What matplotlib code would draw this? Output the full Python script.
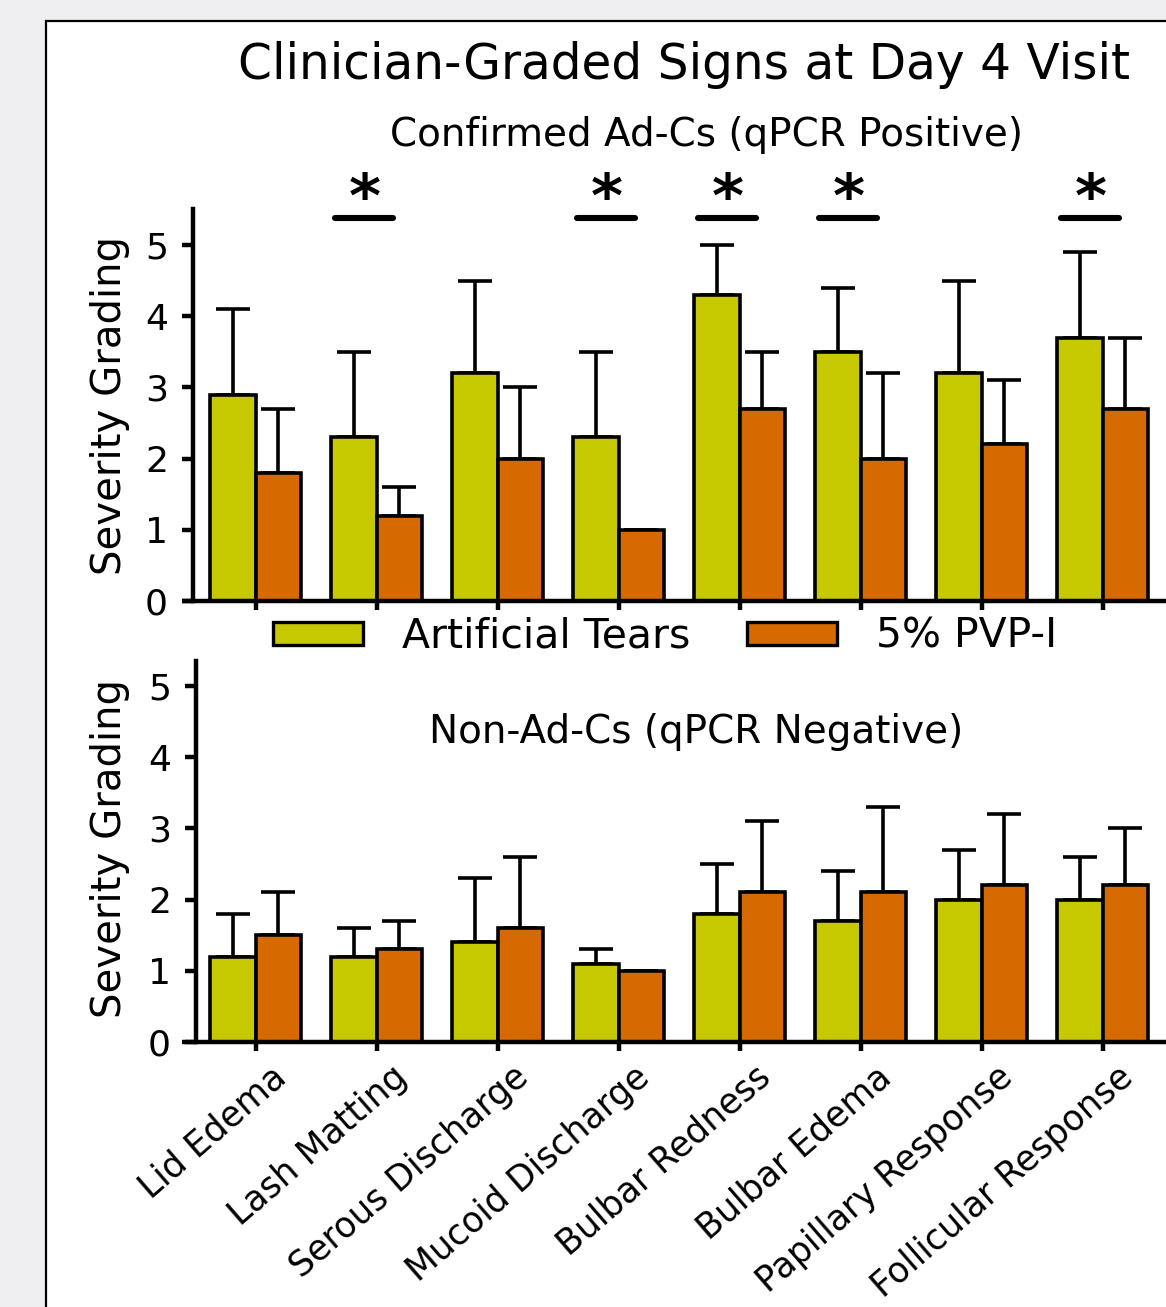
import numpy as np
import matplotlib.pyplot as plt
import matplotlib.transforms as mtransforms
from matplotlib.patches import Rectangle, Patch

## Data ##
categories = ['Lid Edema', 'Lash Matting', 'Serous Discharge', 'Mucoid Discharge',
              'Bulbar Redness', 'Bulbar Edema', 'Papillary Response', 'Follicular Response']
groups = ['Artificial Tears', '5% PVP-I']

# Confirmed Ad-Cs (qPCR positive): mean and SD
pos_at_mean = [2.9, 2.3, 3.2, 2.3, 4.3, 3.5, 3.2, 3.7]
pos_at_sd = [1.2, 1.2, 1.3, 1.2, 0.7, 0.9, 1.3, 1.2]
pos_pvp_mean = [1.8, 1.2, 2.0, 1.0, 2.7, 2.0, 2.2, 2.7]
pos_pvp_sd = [0.9, 0.4, 1.0, 0.0, 0.8, 1.2, 0.9, 1.0]
significant = [1, 3, 4, 5, 7]   # categories marked with *

# Non-Ad-Cs (qPCR negative): mean and SD
neg_at_mean = [1.2, 1.2, 1.4, 1.1, 1.8, 1.7, 2.0, 2.0]
neg_at_sd = [0.6, 0.4, 0.9, 0.2, 0.7, 0.7, 0.7, 0.6]
neg_pvp_mean = [1.5, 1.3, 1.6, 1.0, 2.1, 2.1, 2.2, 2.2]
neg_pvp_sd = [0.6, 0.4, 1.0, 0.0, 1.0, 1.2, 1.0, 0.8]

yticks = [0, 1, 2, 3, 4, 5]

## Style ##
green = '#c6c800'
orange = '#d66a00'
plt.rcParams['font.family'] = ['DejaVu Sans']

fig = plt.figure(figsize=(11.66, 13.07), dpi=100, facecolor='#efeef1')
# white panel with black border
fig.patches.append(Rectangle((46 / 1166, -0.01), 1.0, 1 - 21 / 1307 + 0.01,
                             transform=fig.transFigure, facecolor='white',
                             edgecolor='black', linewidth=1.6, zorder=-1))

x = np.arange(len(categories))
w = 0.375
xlim = ((182 - 255.5) / 121, (1166 - 255.5) / 121)


def draw_panel(ax, at_mean, at_sd, pvp_mean, pvp_sd, ytop, spine_px):
    for off, mean, sd, col in [(-w / 2, at_mean, at_sd, green), (w / 2, pvp_mean, pvp_sd, orange)]:
        ax.bar(x + off, mean, width=w, color=col, edgecolor='black', linewidth=2.6, zorder=2)
        ax.errorbar(x + off, mean, yerr=[np.zeros(len(sd)), sd], fmt='none',
                    ecolor='black', elinewidth=2.6, capsize=12, capthick=2.6, zorder=1)
    ax.set_xlim(*xlim)
    ax.set_ylim(0, ytop)
    ax.set_yticks(yticks)
    ax.set_xticks(x)
    for s in ['top', 'right']:
        ax.spines[s].set_visible(False)
    ax.spines['left'].set_position(('data', (spine_px - 255.5) / 121))
    ax.spines['left'].set_linewidth(3.2)
    ax.spines['bottom'].set_linewidth(3.2)
    ax.spines['bottom'].set_capstyle('butt')
    ax.tick_params(axis='y', length=8, width=3.2, labelsize=26, pad=10)
    ax.tick_params(axis='x', length=6.5, width=3.2)
    ax.set_facecolor('none')


## Top panel ##
ax1 = fig.add_axes([182 / 1166, 1 - 601 / 1307, 984 / 1166, 0.2996])
draw_panel(ax1, pos_at_mean, pos_at_sd, pos_pvp_mean, pos_pvp_sd, 5.5, 193)
ax1.set_xticklabels([])
for i in significant:
    ax1.plot([i - 0.34, i + 0.14], [5.38, 5.38], color='black', linewidth=4.4,
             solid_capstyle='round', clip_on=False)
    ax1.text(i - 0.1, 5.62, '*', ha='center', va='center', fontsize=44,
             fontweight='bold', clip_on=False)

## Bottom panel ##
ax2 = fig.add_axes([182 / 1166, 1 - 1042 / 1307, 984 / 1166, 381 / 1307])
draw_panel(ax2, neg_at_mean, neg_at_sd, neg_pvp_mean, neg_pvp_sd, 5.35, 196)
ax2.set_xticklabels(categories, rotation=41, rotation_mode='anchor',
                    ha='right', va='top', fontsize=25)
ax2.tick_params(axis='x', pad=6)
shift = mtransforms.ScaledTranslation(0.15, 0, fig.dpi_scale_trans)
for lab in ax2.get_xticklabels():
    lab.set_transform(lab.get_transform() + shift)

## Titles and labels ##
fig.text(684 / 1166, 1 - 65 / 1307, 'Clinician-Graded Signs at Day 4 Visit',
         ha='center', va='center', fontsize=35)
fig.text(706 / 1166, 1 - 135 / 1307, 'Confirmed Ad-Cs (qPCR Positive)',
         ha='center', va='center', fontsize=28)
fig.text(696 / 1166, 1 - 732 / 1307, 'Non-Ad-Cs (qPCR Negative)',
         ha='center', va='center', fontsize=28)
for yc in [406, 848]:
    fig.text(110 / 1166, 1 - yc / 1307, 'Severity Grading', rotation=90,
             ha='center', va='center', fontsize=29)

## Legend ##
handles = [Patch(facecolor=green, edgecolor='black', linewidth=2.4),
           Patch(facecolor=orange, edgecolor='black', linewidth=2.4)]
fig.legend(handles, groups, ncol=2, loc='center', bbox_to_anchor=(665 / 1166, 1 - 637 / 1307),
           frameon=False, fontsize=29.5, handlelength=2.2, handleheight=0.5,
           handletextpad=0.95, columnspacing=1.37, borderpad=0)

plt.savefig('out.png', dpi=100, facecolor=fig.get_facecolor())
